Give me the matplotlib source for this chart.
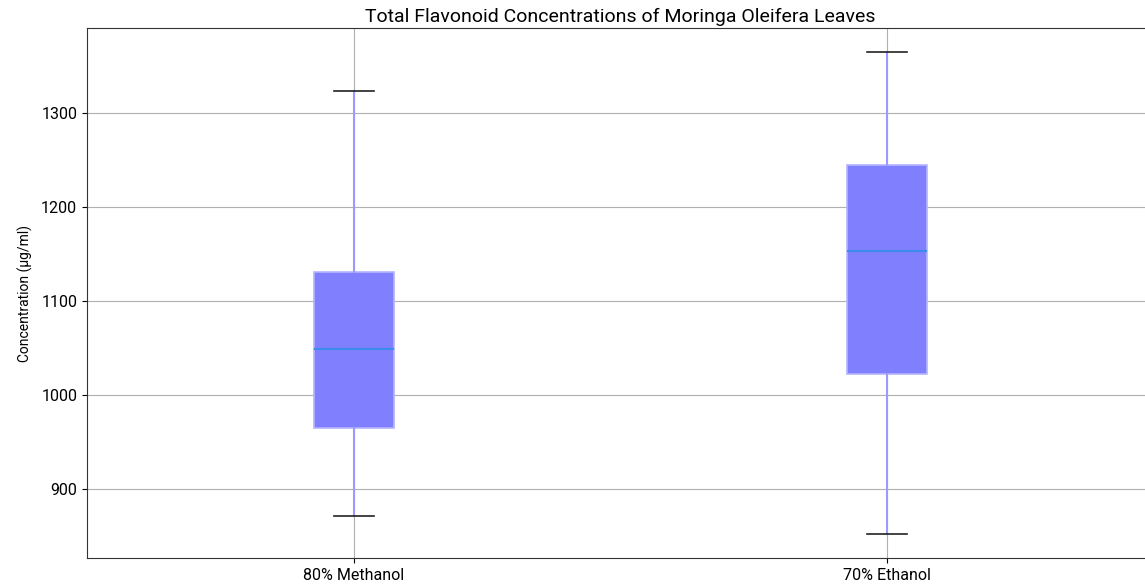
import matplotlib
matplotlib.use("Agg")
import matplotlib.pyplot as plt

categories = ["80% Methanol", "70% Ethanol"]
whisker_low = [871, 852]
q1 = [965, 1022]
median = [1049, 1153]
q3 = [1131, 1245]
whisker_high = [1323, 1365]

plt.rcParams['font.family'] = ['Roboto', 'DejaVu Sans']

fig = plt.figure(figsize=(11.45, 5.86), dpi=100)
W, H = 1145, 586
ax = fig.add_axes([87 / W, 1 - 558 / H, (1154 - 87) / W, (558 - 28) / H])

stats = []
for i, c in enumerate(categories):
    stats.append(dict(label=c, whislo=whisker_low[i], q1=q1[i], med=median[i],
                      q3=q3[i], whishi=whisker_high[i], fliers=[]))

ax.bxp(stats, positions=[1, 2], widths=0.15, patch_artist=True, showfliers=False,
       boxprops=dict(facecolor='#8080ff', edgecolor='#b4b4ff', linewidth=1.2),
       whiskerprops=dict(color='#9a9aff', linewidth=1.5),
       capprops=dict(color='#222222', linewidth=1.2),
       medianprops=dict(color='#3a8de8', linewidth=1.5))

ax.set_xlim(0.5, 2.5)
ax.set_ylim(826.6, 1390.4)
ax.set_yticks([900, 1000, 1100, 1200, 1300])
ax.grid(True, color='#b0b0b0', linewidth=0.8)
ax.set_axisbelow(True)
ax.set_title("Total Flavonoid Concentrations of Moringa Oleifera Leaves", fontsize=14, pad=4)
ax.set_ylabel("Concentration (\u00b5g/ml)", fontsize=10, labelpad=6)
ax.tick_params(labelsize=11.5)
for s in ax.spines.values():
    s.set_color('#333333')

fig.savefig("out.png", dpi=100)
